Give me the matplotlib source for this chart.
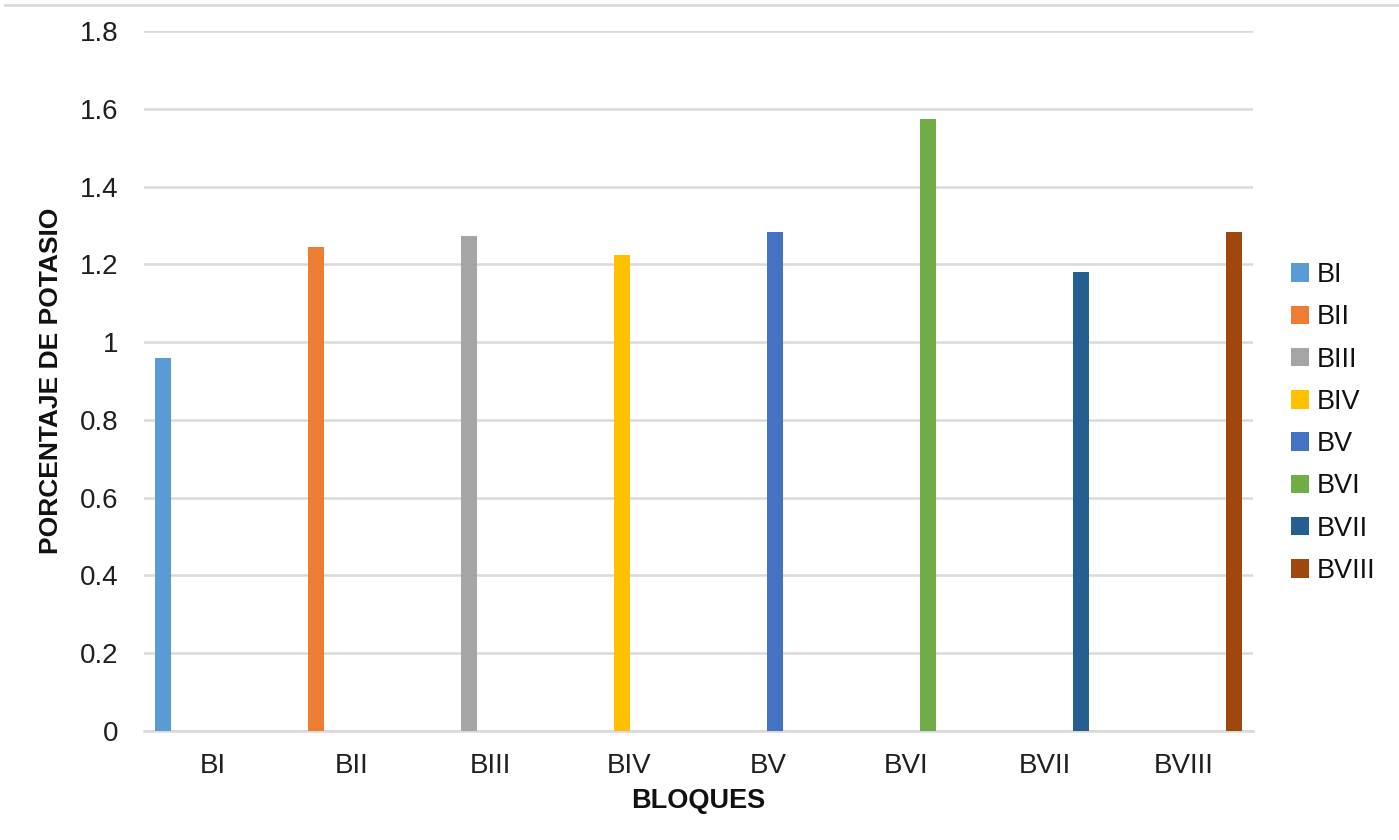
import numpy as np
import matplotlib.pyplot as plt
from matplotlib.lines import Line2D

# Daten
bloques = ["BI", "BII", "BIII", "BIV", "BV", "BVI", "BVII", "BVIII"]
potasio = [0.96, 1.245, 1.273, 1.224, 1.282, 1.573, 1.18, 1.282]
colores = ["#5b9bd5", "#ed7d31", "#a5a5a5", "#ffc000",
           "#4472c4", "#70ad47", "#255e91", "#9e480e"]
yticks = [0, 0.2, 0.4, 0.6, 0.8, 1, 1.2, 1.4, 1.6, 1.8]
ytick_labels = ["0", "0.2", "0.4", "0.6", "0.8", "1", "1.2", "1.4", "1.6", "1.8"]

plt.rcParams["font.family"] = ["Liberation Sans", "DejaVu Sans"]

fig = plt.figure(figsize=(13.99, 8.4), dpi=100)
ax = fig.add_axes([144 / 1399, 1 - 731 / 840, (1253 - 144) / 1399, 700 / 840])

x = np.arange(len(bloques))
paso = 0.1035
ancho = 0.12

# jede Serie hat nur einen Wert in ihrer eigenen Kategorie (Excel-Gruppierung)
for i, (nombre, valor, color) in enumerate(zip(bloques, potasio, colores)):
    pos = x[i] + (i - 3.5) * paso
    ax.bar(pos, valor, width=ancho, color=color, label=nombre, zorder=3)

ax.set_xlim(-0.5, len(bloques) - 0.5)
ax.set_ylim(0, 1.8)
ax.set_yticks(yticks)
ax.set_yticklabels(ytick_labels)
ax.set_xticks(x)
ax.set_xticklabels(bloques)

ax.grid(axis="y", color="#d9d9d9", linewidth=1.8, zorder=0)
for s in ["top", "right", "left"]:
    ax.spines[s].set_visible(False)
ax.spines["bottom"].set_color("#d9d9d9")
ax.spines["bottom"].set_linewidth(1.8)

ax.tick_params(axis="both", length=0, labelsize=20, colors="#1f1f1f")
ax.tick_params(axis="y", pad=18.5)
ax.tick_params(axis="x", pad=16)

ax.set_xlabel("BLOQUES", fontsize=19.5, fontweight="bold", color="#111111", labelpad=6)
ax.set_ylabel("PORCENTAJE DE POTASIO", fontsize=19, fontweight="bold", color="#111111")
ax.yaxis.set_label_coords(-0.073, 0.5)

leg = ax.legend(loc="center left", bbox_to_anchor=(1.034, 0.44), frameon=False,
                fontsize=19.5, handlelength=0.68, handleheight=0.68,
                handletextpad=0.3, labelspacing=0.6,
                borderpad=0, borderaxespad=0)
for t in leg.get_texts():
    t.set_color("#111111")

# Rahmenlinie oben
fig.add_artist(Line2D([5 / 1399, 1], [1 - 5 / 840, 1 - 5 / 840], color="#d9d9d9",
                      linewidth=2, transform=fig.transFigure))

fig.savefig("out.png", dpi=100)
